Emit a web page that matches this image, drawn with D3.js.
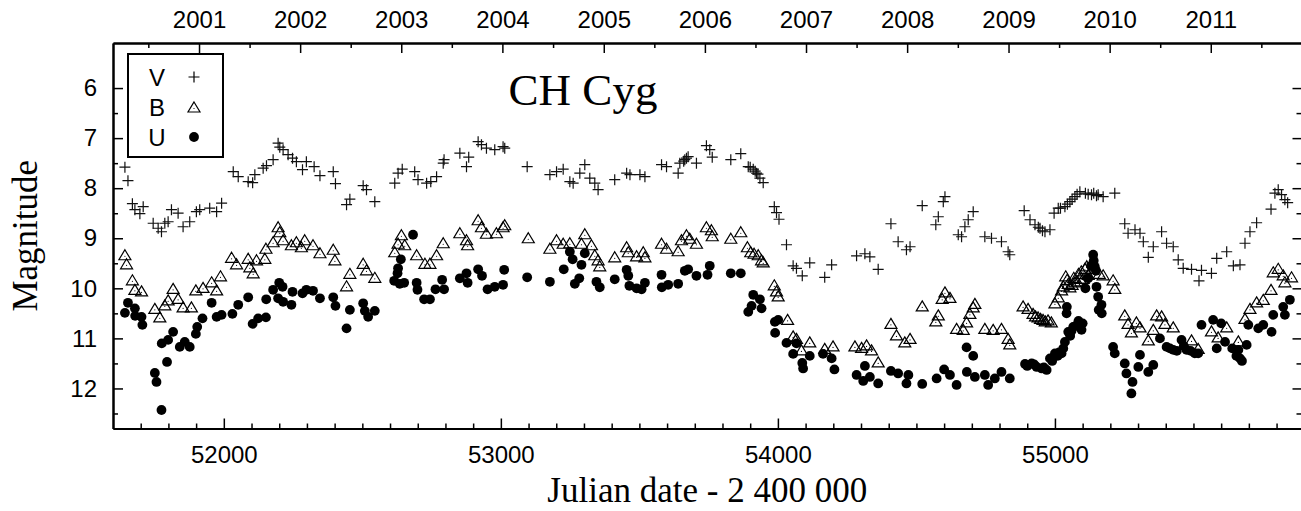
<!DOCTYPE html>
<html>
<head>
<meta charset="utf-8">
<script src="https://cdn.jsdelivr.net/npm/d3@7"></script>
<style>
  html, body { margin: 0; padding: 0; background: #fff; }
  svg { display: block; }
</style>
</head>
<body>
<script>
// CH Cyg light curve, JD - 2400000 vs magnitude

var yearLabels = [2001, 2002, 2003, 2004, 2005, 2006, 2007, 2008, 2009, 2010, 2011];
var jdLabels = [52000, 53000, 54000, 55000];
var magLabels = [6, 7, 8, 9, 10, 11, 12];
var bands = ["V", "B", "U"];

var vPoints = [
  [51643,7.58],[51654,7.85],[51670,8.31],[51679,8.43],[51697,8.51],[51709,8.37],[51745,8.70],[51763,8.80],
  [51775,8.87],[51787,8.70],[51799,8.67],[51811,8.43],[51835,8.50],[51853,8.77],[51877,8.67],[51901,8.47],
  [51913,8.43],[51949,8.40],[51974,8.47],[51992,8.30],[52034,7.67],[52052,7.77],[52088,7.87],[52104,7.89],
  [52112,7.73],[52142,7.60],[52154,7.55],[52178,7.43],[52196,7.10],[52202,7.18],[52214,7.23],[52232,7.33],
  [52248,7.40],[52262,7.47],[52284,7.63],[52298,7.47],[52326,7.57],[52347,7.75],[52395,7.67],[52403,7.91],
  [52443,8.33],[52455,8.22],[52503,7.95],[52515,8.03],[52545,8.27],[52617,7.90],[52629,7.70],[52644,7.62],
  [52689,7.67],[52701,7.83],[52732,7.90],[52747,7.87],[52768,7.77],[52792,7.50],[52795,7.43],[52852,7.30],
  [52876,7.57],[52884,7.38],[52918,7.07],[52930,7.13],[52948,7.20],[52978,7.23],[53008,7.17],[53014,7.20],
  [53095,7.57],[53177,7.73],[53201,7.67],[53225,7.62],[53249,7.87],[53261,7.90],[53285,7.70],[53303,7.53],
  [53321,7.80],[53339,7.90],[53351,8.03],[53411,7.83],[53454,7.70],[53466,7.73],[53502,7.73],[53520,7.77],
  [53580,7.53],[53598,7.57],[53640,7.70],[53646,7.50],[53660,7.46],[53664,7.43],[53670,7.40],[53676,7.37],
  [53706,7.50],[53742,7.15],[53754,7.23],[53763,7.38],[53830,7.43],[53866,7.31],[53893,7.57],[53900,7.58],
  [53911,7.62],[53918,7.66],[53923,7.70],[53928,7.72],[53935,7.80],[53947,7.89],[53987,8.37],[53995,8.49],
  [54004,8.62],[54031,9.13],[54055,9.55],[54067,9.60],[54088,9.75],[54115,9.49],[54169,9.78],[54194,9.53],
  [54284,9.35],[54314,9.31],[54332,9.37],[54362,9.62],[54408,8.71],[54434,9.07],[54464,9.23],[54477,9.17],
  [54521,8.35],[54570,8.73],[54579,8.57],[54597,8.27],[54603,8.17],[54651,8.93],[54663,8.97],[54675,8.77],
  [54687,8.63],[54705,8.47],[54747,8.97],[54771,9.00],[54807,9.07],[54831,9.27],[54837,9.33],[54889,8.45],
  [54910,8.63],[54928,8.73],[54940,8.78],[54946,8.80],[54955,8.85],[54964,8.87],[54982,8.83],[54997,8.50],
  [55012,8.40],[55020,8.40],[55036,8.37],[55045,8.32],[55054,8.27],[55062,8.22],[55072,8.17],[55080,8.12],
  [55090,8.07],[55110,8.10],[55120,8.12],[55132,8.13],[55140,8.10],[55150,8.15],[55156,8.13],[55174,8.17],
  [55216,8.10],[55252,8.71],[55264,8.90],[55289,8.83],[55307,8.90],[55319,9.07],[55337,9.38],[55355,9.17],
  [55385,8.87],[55403,9.10],[55427,9.17],[55445,9.43],[55463,9.60],[55493,9.62],[55520,9.85],[55529,9.64],
  [55565,9.70],[55584,9.40],[55620,9.27],[55644,9.55],[55668,9.53],[55686,9.10],[55704,8.87],[55728,8.69],
  [55780,8.42],[55794,8.10],[55806,8.03],[55818,8.13],[55830,8.23],[55840,8.29]
];

var bPoints = [
  [51643,9.33],[51649,9.51],[51670,9.83],[51679,10.02],[51703,10.05],[51751,10.40],[51769,10.57],[51787,10.33],
  [51799,10.23],[51817,10.00],[51835,10.20],[51853,10.37],[51883,10.37],[51899,10.03],[51925,9.98],[51956,9.87],
  [51974,10.03],[51988,9.75],[52028,9.38],[52046,9.51],[52088,9.40],[52094,9.57],[52106,9.69],[52118,9.43],
  [52148,9.40],[52152,9.20],[52178,9.07],[52196,8.77],[52202,8.87],[52214,9.03],[52244,9.13],[52262,9.07],
  [52280,9.17],[52292,9.03],[52322,9.13],[52347,9.29],[52395,9.22],[52401,9.43],[52443,9.95],[52455,9.70],
  [52503,9.50],[52515,9.63],[52545,9.78],[52617,9.27],[52629,9.10],[52641,8.93],[52653,9.13],[52696,9.33],
  [52726,9.50],[52744,9.50],[52768,9.33],[52792,9.09],[52852,8.89],[52876,9.03],[52880,9.13],[52918,8.63],
  [52930,8.77],[52948,8.90],[52984,8.89],[53008,8.77],[53014,8.73],[53099,8.99],[53177,9.20],[53201,9.03],
  [53225,9.10],[53249,9.09],[53291,9.10],[53303,8.91],[53327,9.13],[53339,9.33],[53351,9.43],[53357,9.55],
  [53411,9.37],[53454,9.17],[53460,9.27],[53490,9.35],[53514,9.27],[53520,9.37],[53580,9.10],[53598,9.20],
  [53640,9.25],[53652,9.03],[53670,8.93],[53682,9.00],[53706,9.10],[53742,8.77],[53760,8.83],[53763,8.95],
  [53830,9.00],[53866,8.87],[53890,9.17],[53902,9.27],[53914,9.30],[53929,9.33],[53941,9.43],[53947,9.47],
  [53987,9.93],[53995,10.05],[54001,10.15],[54035,10.62],[54055,10.95],[54067,11.00],[54085,11.23],[54115,11.07],
  [54169,11.20],[54199,11.15],[54278,11.15],[54302,11.18],[54320,11.13],[54338,11.23],[54362,11.47],[54408,10.70],
  [54428,10.93],[54458,11.07],[54477,11.00],[54521,10.35],[54570,10.65],[54579,10.53],[54593,10.20],[54603,10.07],
  [54621,10.18],[54645,10.80],[54669,10.82],[54681,10.67],[54693,10.50],[54705,10.37],[54711,10.30],[54747,10.80],
  [54777,10.82],[54807,10.80],[54831,11.00],[54837,11.11],[54885,10.35],[54903,10.40],[54921,10.50],[54930,10.55],
  [54939,10.57],[54948,10.60],[54957,10.62],[54965,10.65],[54975,10.63],[54987,10.67],[55000,10.29],[55012,10.17],
  [55024,10.03],[55030,9.95],[55039,9.75],[55044,9.82],[55048,9.90],[55054,9.97],[55062,9.92],[55068,9.78],
  [55072,9.87],[55080,9.85],[55085,9.70],[55090,9.80],[55095,9.65],[55102,9.80],[55108,9.60],[55115,9.55],
  [55120,9.72],[55135,9.60],[55160,9.70],[55174,9.73],[55210,9.83],[55216,10.00],
  [55252,10.53],[55264,10.70],[55276,10.87],[55294,10.67],[55307,10.77],[55337,11.03],[55355,10.82],[55367,10.53],
  [55385,10.55],[55397,10.70],[55427,10.77],[55493,11.03],[55517,11.20],[55565,10.85],[55589,10.97],[55620,10.77],
  [55662,11.05],[55686,10.60],[55704,10.40],[55728,10.27],[55752,10.22],[55780,10.02],[55788,9.67],[55806,9.60],
  [55824,9.73],[55830,9.87],[55854,9.77]
];

var uPoints = [
  [51643,10.49],[51654,10.29],[51679,10.40],[51680,10.55],[51703,10.57],[51706,10.73],[51751,11.69],[51757,11.87],
  [51775,12.43],[51776,11.10],[51795,11.47],[51799,11.03],[51817,10.87],[51841,11.17],[51859,11.07],[51877,11.17],
  [51899,10.91],[51904,10.77],[51923,10.60],[51956,10.29],[51974,10.57],[51992,10.53],[52031,10.51],[52052,10.33],
  [52088,10.18],[52104,10.71],[52124,10.60],[52152,10.58],[52153,10.22],[52178,10.03],[52196,10.20],[52200,9.89],
  [52212,9.97],[52214,10.27],[52244,10.33],[52248,10.07],[52284,10.10],[52298,10.03],[52322,10.05],[52347,10.20],
  [52395,10.18],[52403,10.35],[52443,10.80],[52455,10.43],[52503,10.30],[52509,10.45],[52521,10.57],[52545,10.45],
  [52615,9.85],[52627,9.70],[52629,9.60],[52635,9.91],[52639,9.42],[52651,9.89],[52683,8.93],[52696,9.89],
  [52699,10.03],[52723,10.22],[52744,10.22],[52764,10.02],[52788,9.83],[52795,10.02],[52852,9.80],[52876,9.70],
  [52880,9.89],[52918,9.62],[52932,9.75],[52952,10.02],[52978,9.97],[53008,9.93],[53012,9.63],[53095,9.78],
  [53177,9.87],[53227,9.62],[53249,9.27],[53259,9.42],[53267,9.91],[53283,9.80],[53291,9.53],[53303,9.30],
  [53345,9.87],[53357,9.98],[53411,9.82],[53454,9.63],[53460,9.75],[53464,9.95],[53490,10.00],[53508,10.02],
  [53520,9.89],[53580,9.73],[53581,9.98],[53604,9.93],[53640,9.91],[53664,9.65],[53676,9.62],[53706,9.75],
  [53746,9.73],[53754,9.55],[53830,9.70],[53866,9.70],[53893,10.47],[53905,10.35],[53911,10.13],[53935,10.22],
  [53941,10.40],[53989,10.67],[53990,10.89],[54001,10.63],[54031,11.09],[54055,11.31],[54067,11.10],[54088,11.49],
  [54091,11.60],[54115,11.35],[54163,11.31],[54194,11.40],[54204,11.62],[54284,11.73],[54308,11.85],[54314,11.55],
  [54332,11.77],[54362,11.90],[54408,11.65],[54434,11.70],[54464,11.90],[54471,11.73],[54521,11.91],[54573,11.80],
  [54600,11.62],[54621,11.73],[54645,11.93],[54681,11.18],[54682,11.67],[54705,11.35],[54711,11.77],[54747,11.73],
  [54759,11.93],[54783,11.80],[54807,11.67],[54837,11.80],[54892,11.51],[54900,11.55],[54916,11.50],[54925,11.52],
  [54934,11.57],[54952,11.60],[54960,11.58],[54970,11.63],[54982,11.40],[54990,11.45],[55000,11.30],[55005,11.32],
  [55010,11.35],[55015,11.28],[55024,11.30],[55030,11.20],[55036,11.07],[55042,10.50],[55043,10.37],[55048,10.87],
  [55055,10.95],[55060,10.85],[55066,10.77],[55075,10.75],[55085,10.65],[55090,10.73],[55096,10.83],[55100,10.70],
  [55110,10.00],[55120,9.80],[55130,9.55],[55138,9.33],[55140,9.45],[55144,9.57],[55148,9.65],[55150,9.97],
  [55156,10.17],[55158,10.43],[55168,10.33],[55169,10.50],[55210,11.17],[55216,11.30],[55252,11.50],[55258,11.70],
  [55276,12.10],[55280,11.87],[55301,11.57],[55307,11.33],[55337,11.67],[55355,11.53],[55379,11.00],[55403,11.17],
  [55415,11.20],[55427,11.23],[55440,11.25],[55457,11.03],[55465,11.15],[55475,11.23],[55490,11.25],[55505,11.30],
  [55517,11.30],[55529,10.73],[55571,10.63],[55584,11.20],[55600,10.70],[55614,11.07],[55640,11.20],[55655,11.35],
  [55662,11.23],[55668,11.40],[55675,11.45],[55692,11.13],[55698,10.73],[55734,10.80],[55752,10.73],[55782,10.87],
  [55788,10.53],[55824,10.37],[55830,10.53],[55848,10.23]
];

var W = 1301, H = 511;
var svg = d3.select("body").append("svg").attr("width", W).attr("height", H);

var x = d3.scaleLinear().domain([51600, 55890]).range([113, 1301.5]);
var y = d3.scaleLinear().domain([5.1, 12.8]).range([43, 428.5]);

// julian date (minus 2400000) of 1 Jan of a year
function yearJD(yr) {
  return 51544.5 + (Date.UTC(yr, 0, 1) - Date.UTC(2000, 0, 1)) / 864e5;
}

var sans = "'Liberation Sans', Arial, sans-serif";
var serif = "'Liberation Serif', 'Times New Roman', serif";

function styleAxis(g) {
  g.select(".domain").attr("stroke", "#000").attr("stroke-width", 2);
  g.selectAll(".tick line").attr("stroke", "#000").attr("stroke-width", 1.5);
  g.selectAll(".tick text").attr("font-family", sans).attr("font-size", 24).attr("fill", "#000");
}

var minorJD = d3.range(51700, 55890, 100).filter(function (d) { return d % 1000 != 0; });
var minorMag = d3.range(6.5, 12.6, 1);
var yearMajor = yearLabels.map(yearJD);
var yearMinor = d3.range(2000, 2012).map(function (yr) { return (yearJD(yr) + yearJD(yr + 1)) / 2; })
  .filter(function (d) { return d > 51600 && d < 55890; });

// bottom
svg.append("g").attr("transform", "translate(0," + y.range()[1] + ")")
  .call(d3.axisBottom(x).tickValues(minorJD).tickSize(-5).tickSizeOuter(0).tickFormat(""))
  .call(styleAxis);
svg.append("g").attr("transform", "translate(0," + y.range()[1] + ")")
  .call(d3.axisBottom(x).tickValues(jdLabels).tickSize(-10).tickSizeOuter(0).tickPadding(17.5).tickFormat(d3.format("d")))
  .call(styleAxis);

// top (years)
svg.append("g").attr("transform", "translate(0," + y.range()[0] + ")")
  .call(d3.axisTop(x).tickValues(yearMinor).tickSize(-5).tickSizeOuter(0).tickFormat(""))
  .call(styleAxis);
svg.append("g").attr("transform", "translate(0," + y.range()[0] + ")")
  .call(d3.axisTop(x).tickValues(yearMajor).tickSize(-10).tickSizeOuter(0).tickPadding(15)
    .tickFormat(function (d, i) { return yearLabels[i]; }))
  .call(styleAxis);

// left
svg.append("g").attr("transform", "translate(" + x.range()[0] + ",0)")
  .call(d3.axisLeft(y).tickValues(minorMag).tickSize(-5).tickSizeOuter(0).tickFormat(""))
  .call(styleAxis);
svg.append("g").attr("transform", "translate(" + x.range()[0] + ",0)")
  .call(d3.axisLeft(y).tickValues(magLabels).tickSize(-10).tickSizeOuter(0).tickPadding(16).tickFormat(d3.format("d")))
  .call(styleAxis);

// right
svg.append("g").attr("transform", "translate(" + x.range()[1] + ",0)")
  .call(d3.axisRight(y).tickValues(minorMag).tickSize(-5).tickSizeOuter(0).tickFormat(""))
  .call(styleAxis);
svg.append("g").attr("transform", "translate(" + x.range()[1] + ",0)")
  .call(d3.axisRight(y).tickValues(magLabels).tickSize(-9).tickSizeOuter(0).tickFormat(""))
  .call(styleAxis);

// markers
var plusPath = "M-5.5,0H5.5M0,-5.5V5.5";
var triPath = "M0,-5L6,5H-6Z";

var plot = svg.append("g");

plot.append("g").selectAll("path").data(vPoints).enter().append("path")
  .attr("d", plusPath)
  .attr("transform", function (d) { return "translate(" + x(d[0]) + "," + y(d[1]) + ")"; })
  .attr("stroke", "#111").attr("stroke-width", 1.2).attr("fill", "none");

var tri = plot.append("g").selectAll("g").data(bPoints).enter().append("g")
  .attr("transform", function (d) { return "translate(" + x(d[0]) + "," + y(d[1]) + ")"; });
tri.append("path").attr("d", triPath).attr("stroke", "#000").attr("stroke-width", 1.2).attr("fill", "none");
tri.append("circle").attr("cx", 0).attr("cy", 1.5).attr("r", 0.6).attr("fill", "#000");

plot.append("g").selectAll("circle").data(uPoints).enter().append("circle")
  .attr("cx", function (d) { return x(d[0]); })
  .attr("cy", function (d) { return y(d[1]); })
  .attr("r", 4.9).attr("fill", "#000");

// legend
var legend = svg.append("g");
legend.append("rect").attr("x", 128).attr("y", 54).attr("width", 95).attr("height", 103)
  .attr("fill", "#fff").attr("stroke", "#000").attr("stroke-width", 2);
bands.forEach(function (b, i) {
  var cy = 77 + i * 30;
  legend.append("text").attr("x", 157).attr("y", cy + 8.5).attr("text-anchor", "middle")
    .attr("font-family", sans).attr("font-size", 24).text(b);
  var m = legend.append("g").attr("transform", "translate(194," + cy + ")");
  if (b == "V") {
    m.append("path").attr("d", plusPath).attr("stroke", "#000").attr("stroke-width", 1.2);
  } else if (b == "B") {
    m.append("path").attr("d", triPath).attr("stroke", "#000").attr("stroke-width", 1.2).attr("fill", "none");
    m.append("circle").attr("cy", 1.5).attr("r", 0.6).attr("fill", "#000");
  } else {
    m.append("circle").attr("r", 4.9).attr("fill", "#000");
  }
});

// titles
svg.append("text").attr("x", 583).attr("y", 105).attr("text-anchor", "middle")
  .attr("font-family", serif).attr("font-size", 45).text("CH Cyg");

svg.append("text").attr("x", (x.range()[0] + x.range()[1]) / 2).attr("y", 502).attr("text-anchor", "middle")
  .attr("font-family", serif).attr("font-size", 35).text("Julian date - 2 400 000");

svg.append("text").attr("transform", "translate(37," + (y.range()[0] + y.range()[1]) / 2 + ") rotate(-90)")
  .attr("text-anchor", "middle").attr("font-family", serif).attr("font-size", 35).text("Magnitude");
</script>
</body>
</html>
